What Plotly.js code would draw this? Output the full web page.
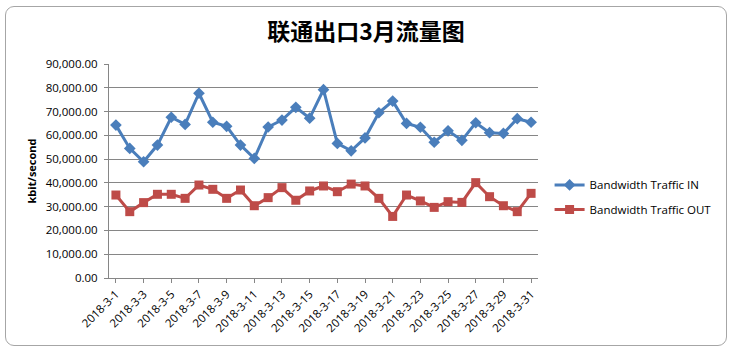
<!DOCTYPE html>
<html>
<head>
<meta charset="utf-8">
<script src="https://cdn.plot.ly/plotly-3.0.1.min.js"></script>
<style>
html,body{margin:0;padding:0;background:#fff;}
#wrap{position:relative;width:732px;height:352px;overflow:hidden;background:#fff;}
#frame{position:absolute;left:5px;top:6px;width:720px;height:338px;border:1px solid #a6a6a6;border-radius:9px;background:#fff;}
#chart{position:absolute;left:0;top:0;width:732px;height:352px;}
</style>
</head>
<body>
<div id="wrap"><div id="frame"></div><div id="chart"></div></div>
<script>
const dates = ["2018-3-1","2018-3-2","2018-3-3","2018-3-4","2018-3-5","2018-3-6","2018-3-7","2018-3-8","2018-3-9","2018-3-10",
"2018-3-11","2018-3-12","2018-3-13","2018-3-14","2018-3-15","2018-3-16","2018-3-17","2018-3-18","2018-3-19","2018-3-20",
"2018-3-21","2018-3-22","2018-3-23","2018-3-24","2018-3-25","2018-3-26","2018-3-27","2018-3-28","2018-3-29","2018-3-30","2018-3-31"];
const trafficIn = [64300,54500,48900,55900,67600,64600,77700,65500,63800,55900,
50300,63500,66400,71800,67200,79200,56600,53500,58900,69500,
74400,65000,63400,57100,61900,57900,65300,61100,60800,67000,65500];
const trafficOut = [34900,27900,31700,35200,35200,33500,39100,37300,33500,37000,
30400,33800,38000,32700,36600,38700,36300,39500,38700,33500,
25900,34900,32400,29700,32100,31800,40100,34200,30400,27900,35600];
const tickLabels = dates.filter((d,i)=>i%2===0);
const yTicks = [0,10000,20000,30000,40000,50000,60000,70000,80000,90000];

const traces = [
 {x:dates,y:trafficIn,name:"Bandwidth Traffic IN",type:"scatter",mode:"lines+markers",
  line:{color:"#4A7EBB",width:3},marker:{symbol:"diamond",size:9,color:"#4A7EBB"},legend:"legend"},
 {x:dates,y:trafficOut,name:"Bandwidth Traffic OUT",type:"scatter",mode:"lines+markers",
  line:{color:"#BE4B48",width:3},marker:{symbol:"square",size:9,color:"#BE4B48"},legend:"legend2"}
];
const layout = {
 width:732,height:352,
 paper_bgcolor:"rgba(0,0,0,0)",plot_bgcolor:"rgba(0,0,0,0)",
 margin:{l:109,r:194,t:64,b:74},
 title:{text:"<b>联通出口3月流量图</b>",x:0.5,xref:"container",xanchor:"center",y:0.91,yref:"container",yanchor:"middle",
   font:{family:"Noto Sans CJK SC",size:23,color:"#000"}},
 xaxis:{type:"category",range:[-0.5,30.5],tickmode:"array",tickvals:tickLabels,ticktext:tickLabels,
   tickangle:-45,showgrid:false,showline:true,linecolor:"#868686",linewidth:1,
   ticks:"outside",ticklen:4,tickcolor:"#868686",
   tickfont:{family:"Open Sans",size:11.5,color:"#000"}},
 yaxis:{range:[0,90000],tickvals:yTicks,tickformat:",.2f",showgrid:true,gridcolor:"#868686",gridwidth:1,
   showline:true,linecolor:"#868686",zeroline:false,ticks:"outside",ticklen:4,tickcolor:"#868686",
   ticklabelstandoff:4,
   tickfont:{family:"Open Sans",size:11.5,color:"#000"},
   title:{text:"<b>kbit/second</b>",font:{family:"Open Sans",size:11,color:"#000"},standoff:6}},
 legend:{x:1.027,y:0.435,xanchor:"left",yanchor:"middle",font:{family:"Open Sans",size:11.5,color:"#000"},bgcolor:"rgba(0,0,0,0)"},
 legend2:{x:1.027,y:0.32,xanchor:"left",yanchor:"middle",font:{family:"Open Sans",size:11.5,color:"#000"},bgcolor:"rgba(0,0,0,0)"},
 showlegend:true
};
Plotly.newPlot("chart",traces,layout,{displayModeBar:false,staticPlot:true});
</script>
</body>
</html>
